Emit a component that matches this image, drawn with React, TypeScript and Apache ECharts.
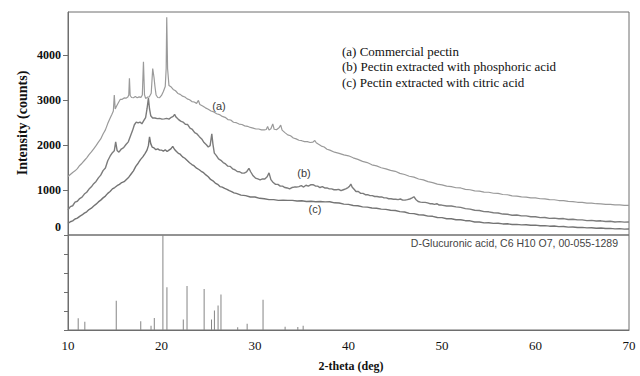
import React, { useEffect, useRef } from "react";
import * as echarts from "echarts";

// 2-theta (deg) vs intensity (counts)
const curveA: [number, number][] = [
  [10.0,1300],[10.25,1345],[10.5,1390],[10.75,1425],[11.0,1475],[11.25,1545],[11.5,1595],[11.75,1655],[12.0,1715],[12.25,1785],[12.5,1845],[12.75,1915],[13.0,1985],[13.25,2065],[13.5,2135],[13.75,2245],[14.0,2335],[14.25,2475],[14.5,2595],[14.7,2685],[14.85,2755],[14.95,3110],[15.05,2800],[15.2,2865],[15.4,2945],[15.6,3015],[15.8,3015],[16.0,3045],[16.2,3040],[16.4,3065],[16.5,3110],[16.57,3480],[16.65,3100],[16.8,3055],[17.0,3050],[17.2,3075],[17.4,3050],[17.6,3068],[17.8,3058],[17.95,3110],[18.07,3850],[18.18,3120],[18.3,3035],[18.5,3062],[18.7,3070],[18.9,3150],[19.06,3700],[19.2,3500],[19.3,3300],[19.42,3110],[19.6,3055],[19.8,3050],[20.0,3100],[20.2,3190],[20.4,3300],[20.5,3700],[20.56,4840],[20.65,3700],[20.8,3320],[21.0,3295],[21.25,3235],[21.5,3205],[21.75,3145],[22.0,3125],[22.25,3085],[22.5,3065],[22.75,3025],[23.0,3005],[23.25,2965],[23.5,2955],[23.75,2925],[23.95,2990],[24.1,2900],[24.4,2865],[24.7,2825],[25.0,2795],[25.3,2755],[25.6,2735],[25.9,2695],[26.2,2675],[26.5,2635],[26.8,2615],[27.1,2565],[27.4,2555],[27.7,2505],[28.0,2495],[28.3,2465],[28.6,2455],[28.9,2425],[29.2,2415],[29.5,2390],[29.8,2375],[30.1,2355],[30.4,2355],[30.7,2335],[31.0,2335],[31.2,2345],[31.35,2410],[31.5,2330],[31.7,2360],[31.9,2470],[32.05,2350],[32.3,2340],[32.6,2390],[32.75,2440],[32.9,2330],[33.2,2275],[33.5,2225],[33.8,2205],[34.1,2155],[34.4,2135],[34.7,2105],[35.0,2095],[35.3,2075],[35.6,2075],[35.9,2055],[36.2,2065],[36.4,2100],[36.55,2050],[36.8,2015],[37.1,1975],[37.4,1955],[37.7,1905],[38.0,1885],[38.5,1840],[39.0,1815],[39.5,1780],[40.0,1760],[40.5,1715],[41.0,1680],[41.5,1635],[42.0,1610],[42.5,1560],[43.0,1535],[43.5,1495],[44.0,1470],[44.5,1435],[45.0,1415],[45.5,1370],[46.0,1345],[46.5,1305],[47.0,1285],[47.5,1245],[48.0,1225],[48.5,1185],[49.0,1165],[49.5,1130],[50.0,1115],[50.5,1085],[51.0,1075],[51.5,1050],[52.0,1045],[52.5,1015],[53.0,1005],[53.5,980],[54.0,975],[54.5,953],[55.0,950],[55.5,928],[56.0,924],[56.5,900],[57.0,894],[57.5,870],[58.0,864],[58.5,846],[59.0,843],[59.5,826],[60.0,823],[60.5,806],[61.0,803],[61.5,786],[62.0,783],[62.5,766],[63.0,763],[63.5,746],[64.0,743],[64.5,727],[65.0,723],[65.5,709],[66.0,707],[66.5,695],[67.0,692],[67.5,682],[68.0,682],[68.5,671],[69.0,670],[69.5,660],[70.0,660]
];

const curveB: [number, number][] = [
  [10.0,560],[10.25,630],[10.5,650],[10.75,730],[11.0,750],[11.25,810],[11.5,840],[11.75,910],[12.0,950],[12.25,1020],[12.5,1070],[12.75,1140],[13.0,1190],[13.25,1270],[13.5,1330],[13.75,1430],[14.0,1490],[14.25,1650],[14.5,1750],[14.75,1830],[14.95,1870],[15.1,2070],[15.25,1880],[15.45,1840],[15.7,1910],[15.95,1940],[16.2,2010],[16.45,2070],[16.7,2210],[16.9,2320],[17.1,2450],[17.3,2510],[17.5,2490],[17.7,2510],[17.9,2470],[18.1,2540],[18.3,2610],[18.45,2800],[18.6,3040],[18.72,2800],[18.85,2650],[19.05,2600],[19.3,2600],[19.55,2585],[19.8,2590],[20.05,2575],[20.3,2580],[20.55,2590],[20.8,2575],[21.05,2615],[21.25,2635],[21.4,2680],[21.55,2620],[21.8,2570],[22.05,2530],[22.3,2510],[22.55,2460],[22.8,2455],[23.05,2375],[23.3,2345],[23.55,2275],[23.8,2245],[24.05,2185],[24.3,2135],[24.55,2055],[24.8,2005],[25.0,1955],[25.2,1985],[25.38,2250],[25.5,2020],[25.65,1820],[25.85,1770],[26.1,1690],[26.35,1660],[26.6,1610],[26.85,1580],[27.1,1530],[27.35,1525],[27.6,1470],[27.85,1450],[28.1,1410],[28.35,1405],[28.6,1375],[28.85,1375],[29.1,1400],[29.35,1480],[29.55,1400],[29.8,1315],[30.05,1265],[30.3,1245],[30.55,1225],[30.8,1245],[31.05,1245],[31.3,1295],[31.5,1380],[31.7,1230],[31.95,1165],[32.2,1125],[32.45,1125],[32.7,1085],[32.95,1085],[33.2,1055],[33.45,1045],[33.7,1025],[33.95,1055],[34.2,1065],[34.45,1065],[34.7,1075],[34.95,1095],[35.2,1065],[35.45,1105],[35.7,1085],[35.95,1115],[36.2,1120],[36.45,1090],[36.7,1085],[36.95,1055],[37.2,1075],[37.45,1045],[37.7,1045],[37.95,1025],[38.2,1025],[38.45,1005],[38.7,1005],[38.95,1015],[39.2,985],[39.45,1005],[39.7,1025],[39.95,1055],[40.1,1080],[40.25,1130],[40.4,1060],[40.6,1015],[40.8,965],[41.05,965],[41.3,925],[41.55,925],[41.8,895],[42.05,895],[42.3,875],[42.55,875],[42.8,855],[43.05,855],[43.3,845],[43.55,845],[43.8,825],[44.05,825],[44.3,805],[44.55,805],[44.8,795],[45.05,795],[45.3,785],[45.55,800],[45.8,775],[46.05,775],[46.3,785],[46.55,800],[46.8,825],[47.0,850],[47.2,790],[47.45,745],[47.7,730],[47.95,725],[48.2,725],[48.45,715],[48.7,695],[48.95,695],[49.2,680],[49.45,695],[49.7,665],[49.95,665],[50.5,645],[51.0,645],[51.5,625],[52.0,615],[52.5,585],[53.0,575],[53.5,550],[54.0,545],[54.5,520],[55.0,515],[55.5,495],[56.0,490],[56.5,465],[57.0,460],[57.5,440],[58.0,445],[58.5,425],[59.0,425],[59.5,405],[60.0,405],[60.5,385],[61.0,390],[61.5,370],[62.0,375],[62.5,360],[63.0,365],[63.5,345],[64.0,350],[64.5,335],[65.0,335],[65.5,320],[66.0,325],[66.5,310],[67.0,315],[67.5,300],[68.0,305],[68.5,290],[69.0,297],[69.5,285],[70.0,290]
];

const curveC: [number, number][] = [
  [10.0,260],[10.25,295],[10.5,315],[10.75,355],[11.0,375],[11.25,415],[11.5,445],[11.75,485],[12.0,515],[12.25,565],[12.5,595],[12.75,645],[13.0,685],[13.25,735],[13.5,775],[13.75,825],[14.0,865],[14.25,925],[14.5,965],[14.75,1025],[15.0,1055],[15.25,1095],[15.5,1125],[15.75,1165],[16.0,1185],[16.25,1235],[16.5,1285],[16.75,1355],[17.0,1425],[17.25,1525],[17.5,1595],[17.75,1675],[18.0,1735],[18.25,1815],[18.45,1885],[18.6,1985],[18.72,2180],[18.85,2030],[19.0,1955],[19.2,1935],[19.4,1895],[19.6,1915],[19.8,1885],[20.0,1885],[20.2,1865],[20.4,1895],[20.6,1855],[20.8,1885],[21.0,1915],[21.2,1970],[21.4,1900],[21.6,1855],[21.8,1815],[22.0,1795],[22.25,1735],[22.5,1705],[22.75,1655],[23.0,1605],[23.25,1565],[23.5,1535],[23.75,1485],[24.0,1455],[24.25,1415],[24.5,1385],[24.75,1335],[25.0,1295],[25.25,1235],[25.5,1205],[25.75,1155],[26.0,1125],[26.25,1075],[26.5,1065],[26.75,1035],[27.0,1015],[27.25,985],[27.5,965],[27.75,935],[28.0,925],[28.5,885],[29.0,875],[29.5,845],[30.0,845],[30.5,815],[31.0,805],[31.5,785],[32.0,785],[32.5,770],[33.0,775],[33.5,770],[34.0,770],[34.5,755],[35.0,760],[35.5,745],[36.0,750],[36.5,740],[37.0,745],[37.5,737],[38.0,740],[38.5,715],[39.0,710],[39.5,685],[40.0,680],[40.5,655],[41.0,650],[41.5,625],[42.0,620],[42.5,600],[43.0,595],[43.5,575],[44.0,570],[44.5,550],[45.0,545],[45.5,520],[46.0,510],[46.5,480],[47.0,475],[47.5,450],[48.0,445],[48.5,420],[49.0,415],[49.5,390],[50.0,385],[50.5,360],[51.0,360],[51.5,340],[52.0,340],[52.5,318],[53.0,315],[53.5,290],[54.0,290],[54.5,270],[55.0,272],[55.5,258],[56.0,260],[56.5,246],[57.0,249],[57.5,234],[58.0,236],[58.5,224],[59.0,228],[59.5,216],[60.0,219],[60.5,206],[61.0,209],[61.5,196],[62.0,199],[62.5,186],[63.0,189],[63.5,176],[64.0,179],[64.5,166],[65.0,169],[65.5,158],[66.0,162],[66.5,151],[67.0,154],[67.5,143],[68.0,147],[68.5,136],[69.0,141],[69.5,131],[70.0,134]
];

// reference pattern D-Glucuronic acid (relative intensity)
const stickPos = [11.09, 11.8, 15.16, 17.78, 18.88, 19.23, 20.15, 20.58, 22.33, 22.73, 24.56, 25.35, 25.66, 26.05, 26.36, 28.15, 29.16, 30.86, 33.22, 34.58, 35.15];
const stickHeight = [12.4, 8.8, 30.7, 9.2, 4.6, 12.7, 100, 44.9, 11, 46.3, 43.1, 11, 20.5, 25.8, 37.5, 2.8, 6.7, 31.8, 3.5, 3.2, 4.6];

const yTicks = [0, 1000, 2000, 3000, 4000];
const xTickLabels = [10, 20, 30, 40, 50, 60, 70];
const legendLines = [
  "(a) Commercial pectin",
  "(b) Pectin extracted with phosphoric acid",
  "(c) Pectin extracted with citric acid",
];
const curveTags = ["(a)", "(b)", "(c)"];
const refLabel = "D-Glucuronic acid, C6 H10 O7, 00-055-1289";

export default function App() {
  const ref = useRef<HTMLDivElement>(null);
  useEffect(() => {
    if (!ref.current) return;
    const chart = echarts.init(ref.current, null, { renderer: "svg" });
    const serif = "'Liberation Serif', 'Times New Roman', serif";
    const sans = "'Liberation Sans', Arial, sans-serif";
    const axisColor = "#6e6e6e";
    const tagPos = [
      [219, 106],
      [304, 173],
      [315, 209],
    ];
    chart.setOption({
      animation: false,
      backgroundColor: "#ffffff",
      grid: [
        { left: 68, right: 11, top: 12, height: 223, show: true, borderColor: axisColor, borderWidth: 1, backgroundColor: "transparent" },
        { left: 68, right: 11, top: 235, height: 95, show: true, borderColor: axisColor, borderWidth: 1, backgroundColor: "transparent" },
      ],
      xAxis: [
        { type: "value", gridIndex: 0, min: 10, max: 70, interval: 10, axisLine: { show: false }, axisTick: { show: false }, axisLabel: { show: false }, splitLine: { show: false } },
        {
          type: "value", gridIndex: 1, min: 10, max: 70, interval: 10,
          axisLine: { show: true, lineStyle: { color: axisColor, width: 1 } },
          axisTick: { show: false },
          axisLabel: { show: true, customValues: xTickLabels, color: "#111", fontFamily: serif, fontSize: 13, margin: 9 },
          splitLine: { show: false },
        },
      ],
      yAxis: [
        {
          type: "value", gridIndex: 0, min: 0, max: 4955,
          axisLine: { show: true, lineStyle: { color: axisColor, width: 1 } },
          axisTick: { show: true, customValues: [1000, 2000, 3000, 4000], length: 5, lineStyle: { color: axisColor } },
          axisLabel: {
            show: true, customValues: yTicks, color: "#111", fontFamily: serif, fontSize: 12, fontWeight: "bold", margin: 7,
            formatter: (v: number) => (v === 0 ? "{z|0}" : String(v)),
            rich: { z: { padding: [0, 0, 16, 0], fontFamily: serif, fontSize: 12, fontWeight: "bold", color: "#111" } },
          },
          splitLine: { show: false },
        },
        {
          type: "value", gridIndex: 1, min: 0, max: 100, interval: 20,
          axisLine: { show: true, lineStyle: { color: axisColor, width: 1 } },
          axisTick: { show: true, length: 4, lineStyle: { color: axisColor } },
          axisLabel: { show: false },
          splitLine: { show: false },
        },
      ],
      series: [
        { name: "(a)", type: "line", xAxisIndex: 0, yAxisIndex: 0, data: curveA, showSymbol: false, lineStyle: { color: "#9a9a9a", width: 1.2 }, silent: true },
        { name: "(b)", type: "line", xAxisIndex: 0, yAxisIndex: 0, data: curveB, showSymbol: false, lineStyle: { color: "#7c7c7c", width: 1.4 }, silent: true },
        { name: "(c)", type: "line", xAxisIndex: 0, yAxisIndex: 0, data: curveC, showSymbol: false, lineStyle: { color: "#747474", width: 1.4 }, silent: true },
        {
          name: "D-Glucuronic acid", type: "bar", xAxisIndex: 1, yAxisIndex: 1, barWidth: 1,
          data: stickPos.map((p, i) => [p, stickHeight[i]]),
          itemStyle: { color: "#858585" }, silent: true,
        },
      ],
      graphic: [
        ...legendLines.map((t, i) => ({
          type: "text", left: 342, top: 45 + i * 15.3,
          style: { text: t, fill: "#111", font: `13px ${serif}` },
        })),
        ...curveTags.map((t, i) => ({
          type: "text", x: tagPos[i][0], y: tagPos[i][1],
          style: { text: t, fill: "#3a3a3a", font: `11px ${sans}`, textAlign: "center", textVerticalAlign: "middle" },
        })),
        {
          type: "text", x: 618, y: 243,
          style: { text: refLabel, fill: "#444", font: `10.5px ${sans}`, textAlign: "right", textVerticalAlign: "middle" },
        },
        {
          type: "text", x: 22, y: 123, rotation: Math.PI / 2,
          style: { text: "Intensity (counts)", fill: "#111", font: `bold 14px ${serif}`, textAlign: "center", textVerticalAlign: "middle" },
        },
        {
          type: "text", x: 351, y: 366,
          style: { text: "2-theta (deg)", fill: "#111", font: `bold 12px ${serif}`, textAlign: "center", textVerticalAlign: "middle" },
        },
      ],
    });
    return () => chart.dispose();
  }, []);
  return <div ref={ref} style={{ position: "fixed", left: 0, top: 0, width: 640, height: 376, background: "#fff" }} />;
}
